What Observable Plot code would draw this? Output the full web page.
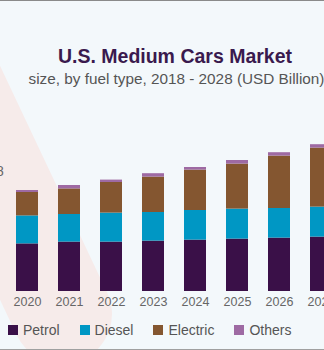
<!DOCTYPE html>
<html>
<head>
<meta charset="utf-8">
<script src="https://cdn.jsdelivr.net/npm/d3@7"></script>
<script src="https://cdn.jsdelivr.net/npm/@observablehq/plot@0.6"></script>
<style>
  html, body { margin: 0; padding: 0; background: #f3f8fb; }
  #root { position: relative; width: 324px; height: 350px; overflow: hidden; background: #f3f8fb;
          border-top: 1px solid #8a8a8a; border-bottom: 1px solid #a0a0a0; box-sizing: border-box;
          font-family: "Liberation Sans", Arial, sans-serif; }
  #blob { position: absolute; left: 12px; top: -237px; width: 100px; height: 600px; border-radius: 50px;
          background: #f6ebea; transform-origin: 50px 550px; transform: rotate(-25.3deg); }
  #title { position: absolute; left: 0; width: 350px; top: 46px; text-align: center; font-size: 19.5px;
           line-height: 19.5px; font-weight: bold; color: #3a1a4e; white-space: nowrap; }
  #subtitle { position: absolute; left: 0; width: 353px; top: 69.5px; text-align: center; font-size: 15.3px;
              line-height: 15.3px; color: #555; white-space: nowrap; }
  #edge { position: absolute; left: -4px; top: 163px; font-size: 14px; line-height: 14px; color: #666; }
  #chart { position: absolute; left: -88px; top: -1px; }
  #legend { position: absolute; left: 8px; top: 321px; }
  .lg-swatches { min-height: 0 !important; margin: 0 !important; }
  .lg-swatch { margin-right: 20px !important; }
  .lg-swatch > svg { margin-right: 5px !important; margin-left: 0 !important; }
</style>
</head>
<body>
<div id="root">
  <div id="blob"></div>
  <div id="chart"></div>
  <div id="title"></div>
  <div id="subtitle"></div>
  <div id="edge"></div>
  <div id="legend"></div>
</div>
<script>
const titleText = "U.S. Medium Cars Market";
const subtitleText = "size, by fuel type, 2018 - 2028 (USD Billion)";
const edgeLabel = "8";
const allYears = [2018, 2019, 2020, 2021, 2022, 2023, 2024, 2025, 2026, 2027, 2028];
const years = [2020, 2021, 2022, 2023, 2024, 2025, 2026, 2027];
const fuels = ["Petrol", "Diesel", "Electric", "Others"];
const fuelColors = ["#3a1048", "#0097c4", "#845630", "#9e6aa3"];
const petrol = [23.8, 24.7, 24.7, 25.2, 25.7, 26.2, 26.7, 27.2];
const diesel = [14.0, 13.8, 14.5, 14.3, 14.8, 15.0, 14.8, 15.0];
const electric = [11.7, 12.8, 15.3, 17.7, 20.2, 22.5, 26.2, 29.5];
const others = [1.0, 1.7, 1.2, 1.7, 1.3, 1.8, 1.7, 1.7];

const series = {Petrol: petrol, Diesel: diesel, Electric: electric, Others: others};
const rows = [];
years.forEach((yr, i) => fuels.forEach(f => rows.push({year: yr, fuel: f, value: series[f][i]})));

document.getElementById("title").textContent = titleText;
document.getElementById("subtitle").textContent = subtitleText;
document.getElementById("edge").textContent = edgeLabel;

const chart = Plot.plot({
  width: 482,
  height: 350,
  marginTop: 91,
  marginBottom: 59,
  marginLeft: 0,
  marginRight: 0,
  style: {background: "transparent", maxWidth: "none", overflow: "visible", fontFamily: "'Liberation Sans', Arial, sans-serif"},
  x: {type: "band", domain: allYears, paddingInner: 20 / 42, paddingOuter: 20 / 42, label: null},
  y: {domain: [0, 100], axis: null},
  color: {domain: fuels, range: fuelColors},
  marks: [
    Plot.barY(rows, Plot.stackY({order: fuels}, {x: "year", y: "value", fill: "fuel", insetLeft: 0, insetRight: 0})),
    Plot.axisX(years, {tickSize: 0, tickPadding: 6, fontSize: 12.5, fill: "#666", label: null, tickFormat: d => String(d)})
  ]
});
document.getElementById("chart").appendChild(chart);

const legend = Plot.legend({
  color: {type: "ordinal", domain: fuels, range: fuelColors},
  swatchSize: 10,
  className: "lg",
  style: {fontSize: "14px", fontFamily: "'Liberation Sans', Arial, sans-serif", color: "#555", background: "transparent"}
});
document.getElementById("legend").appendChild(legend);
</script>
</body>
</html>
